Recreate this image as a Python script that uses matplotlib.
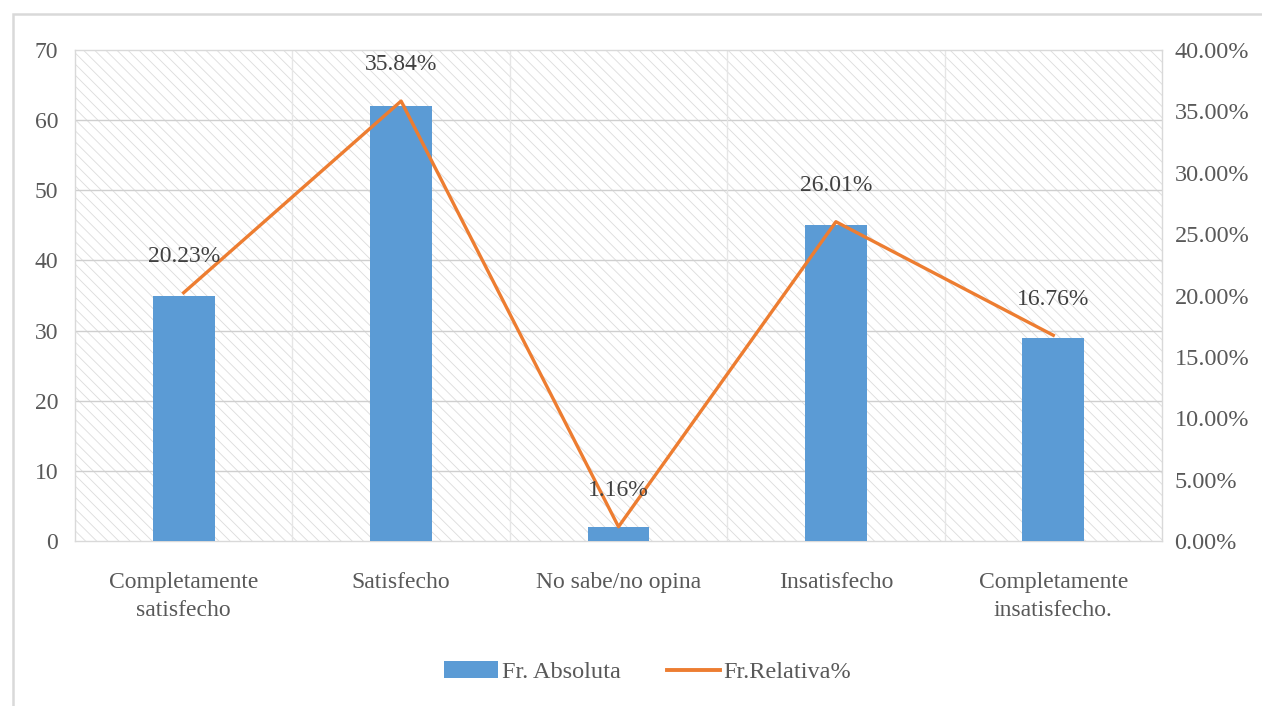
import matplotlib
matplotlib.use("Agg")
import matplotlib.pyplot as plt
from matplotlib.patches import Rectangle
from matplotlib.ticker import FuncFormatter, MultipleLocator
from matplotlib.lines import Line2D
from matplotlib.patches import Patch

categories = ["Completamente\nsatisfecho", "Satisfecho", "No sabe/no opina",
              "Insatisfecho", "Completamente\ninsatisfecho."]
abs_freq = [35, 62, 2, 45, 29]
rel_freq = [20.23, 35.84, 1.16, 26.01, 16.76]
rel_labels = ["20.23%", "35.84%", "1.16%", "26.01%", "16.76%"]

BAR = "#5B9BD5"
LINE = "#ED7D31"
TXT = "#595959"
GRID = "#D9D9D9"

plt.rcParams['font.family'] = ['Liberation Serif', 'DejaVu Serif']
plt.rcParams['hatch.linewidth'] = 0.6

W, H = 1262, 706
fig = plt.figure(figsize=(W / 100, H / 100), dpi=100)
fig.patch.set_facecolor("white")

# outer chart border
fig.patches.append(Rectangle((13 / W, -0.1), 1.2, 1 - 14 / H + 0.1, transform=fig.transFigure,
                             facecolor="none", edgecolor=GRID, linewidth=1.8, zorder=0))

left, right, top, bottom = 75 / W, 1162 / W, 1 - 50 / H, 1 - 541 / H
ax = fig.add_axes([left, bottom, right - left, top - bottom])
ax.set_facecolor("white")
ax.add_patch(Rectangle((0, 0), 1, 1, transform=ax.transAxes, facecolor="white",
                       edgecolor="#DCDCDC", linewidth=0, hatch="\\\\\\", zorder=0))

x = list(range(len(categories)))
ax.bar(x, abs_freq, width=0.285, color=BAR, zorder=3)
ax.set_xlim(-0.5, len(categories) - 0.5)
ax.set_ylim(0, 70)
ax.yaxis.set_major_locator(MultipleLocator(10))
ax.set_xticks(x)
ax.set_xticklabels(categories, fontsize=17, color=TXT, linespacing=1.45)
ax.tick_params(axis="both", length=0, labelsize=17, labelcolor=TXT)
ax.tick_params(axis="x", pad=22)
ax.tick_params(axis="y", pad=12)
for yv in range(10, 70, 10):
    ax.axhline(yv, color="#CFCFCF", linewidth=1.0, zorder=1)
for xv in [0.5, 1.5, 2.5, 3.5]:
    ax.axvline(xv, color="#E6E6E6", linewidth=1.0, zorder=1)
for s in ax.spines.values():
    s.set_color(GRID)
    s.set_linewidth(1.0)

ax2 = ax.twinx()
ax2.plot(x, rel_freq, color=LINE, linewidth=2.4, zorder=4)
ax2.set_ylim(0, 40)
ax2.yaxis.set_major_locator(MultipleLocator(5))
ax2.yaxis.set_major_formatter(FuncFormatter(lambda v, p: f"{v:.2f}%"))
ax2.tick_params(axis="y", length=0, labelsize=17.5, labelcolor=TXT, pad=9)
for s in ax2.spines.values():
    s.set_visible(False)
for xi, v, lab in zip(x, rel_freq, rel_labels):
    ax2.annotate(lab, (xi, v), xytext=(0, 26), textcoords="offset points",
                 ha="center", va="center", fontsize=17, color="#404040", zorder=5)

handles = [Patch(facecolor=BAR, edgecolor="none"),
           Line2D([0], [0], color=LINE, linewidth=2.8)]
fig.legend(handles, ["Fr. Absoluta", "Fr.Relativa%"], loc="center",
           bbox_to_anchor=(648 / W, 1 - 672 / H), ncol=2, frameon=False,
           fontsize=17.5, labelcolor=TXT, handlelength=2.2, handletextpad=0.15,
           columnspacing=1.9)

fig.savefig("out.png", dpi=100, facecolor="white")
